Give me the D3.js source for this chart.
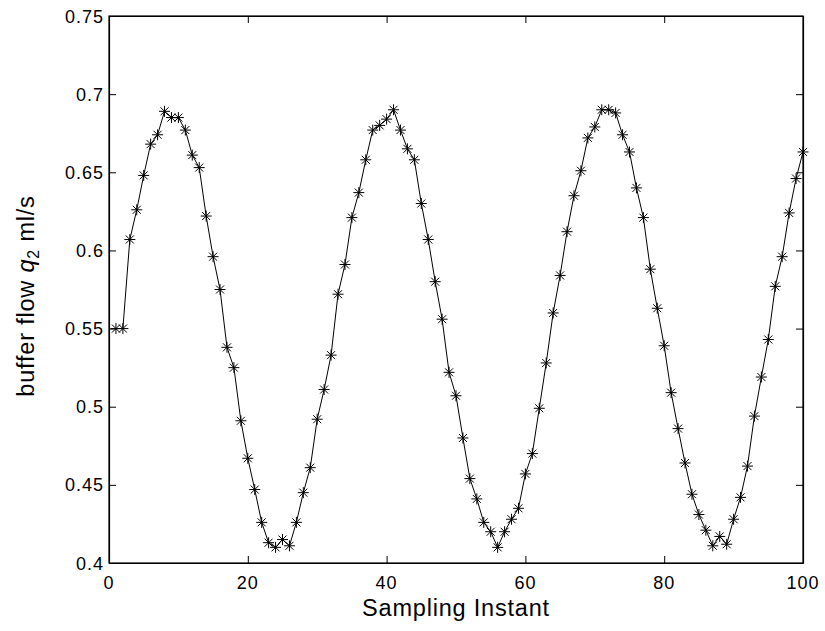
<!DOCTYPE html>
<html>
<head>
<meta charset="utf-8">
<script src="https://cdn.jsdelivr.net/npm/d3@7"></script>
<style>
  html, body { margin: 0; padding: 0; background: #fff; }
  svg { display: block; }
  text { font-family: "Liberation Sans", Arial, Helvetica, sans-serif; fill: #000; }
</style>
</head>
<body>
<svg id="chart" width="825" height="631"></svg>
<script>
// ---- data ----
const sampleIdx = d3.range(1, 101);
const bufferFlow = [
  0.550, 0.550, 0.607, 0.626, 0.648, 0.668, 0.674, 0.689, 0.685, 0.685,
  0.677, 0.661, 0.653, 0.622, 0.596, 0.575, 0.538, 0.525, 0.491, 0.467,
  0.447, 0.426, 0.413, 0.410, 0.415, 0.411, 0.426, 0.445, 0.461, 0.492,
  0.511, 0.533, 0.572, 0.591, 0.621, 0.637, 0.658, 0.677, 0.680, 0.684,
  0.690, 0.677, 0.665, 0.658, 0.630, 0.607, 0.580, 0.556, 0.522, 0.507,
  0.480, 0.454, 0.441, 0.426, 0.420, 0.410, 0.420, 0.428, 0.435, 0.457,
  0.470, 0.499, 0.528, 0.560, 0.584, 0.612, 0.635, 0.651, 0.672, 0.679,
  0.690, 0.690, 0.688, 0.674, 0.663, 0.640, 0.621, 0.588, 0.563, 0.539,
  0.509, 0.486, 0.464, 0.444, 0.431, 0.421, 0.411, 0.417, 0.412, 0.428,
  0.442, 0.462, 0.494, 0.519, 0.543, 0.577, 0.596, 0.624, 0.646, 0.663
];
const xTicks = [0, 20, 40, 60, 80, 100];
const yTicks = [0.4, 0.45, 0.5, 0.55, 0.6, 0.65, 0.7, 0.75];
const xTickLabels = ["0", "20", "40", "60", "80", "100"];
const yTickLabels = ["0.4", "0.45", "0.5", "0.55", "0.6", "0.65", "0.7", "0.75"];
const xTitle = "Sampling Instant";

(function () {
// ---- layout ----
const pL = 109, pR = 803, pT = 16, pB = 563;
const svg = d3.select("#chart");
const x = d3.scaleLinear().domain([0, 100]).range([pL, pR]);
const y = d3.scaleLinear().domain([0.4, 0.75]).range([pB, pT]);
const tickLen = 7;

// box
svg.append("rect")
  .attr("x", pL).attr("y", pT)
  .attr("width", pR - pL).attr("height", pB - pT)
  .attr("fill", "none").attr("stroke", "#000").attr("stroke-width", 1.2);

// axes with inward ticks
const axB = d3.axisBottom(x).tickValues(xTicks).tickSizeInner(-tickLen).tickSizeOuter(0).tickFormat(() => "");
const axT = d3.axisTop(x).tickValues(xTicks).tickSizeInner(-tickLen).tickSizeOuter(0).tickFormat(() => "");
const axL = d3.axisLeft(y).tickValues(yTicks).tickSizeInner(-tickLen).tickSizeOuter(0).tickFormat(() => "");
const axR = d3.axisRight(y).tickValues(yTicks).tickSizeInner(-tickLen).tickSizeOuter(0).tickFormat(() => "");
[[axB, `translate(0,${pB})`], [axT, `translate(0,${pT})`], [axL, `translate(${pL},0)`], [axR, `translate(${pR},0)`]]
  .forEach(([ax, tr]) => {
    const g = svg.append("g").attr("transform", tr).call(ax);
    g.select(".domain").attr("stroke", "#000").attr("stroke-width", 1.2);
    g.selectAll(".tick line").attr("stroke", "#000").attr("stroke-width", 1);
  });

// tick labels
svg.append("g").selectAll("text").data(xTicks).join("text")
  .attr("x", d => x(d)).attr("y", 589)
  .attr("text-anchor", "middle")
  .style("font-size", "18px").style("letter-spacing", "1px")
  .text((d, i) => xTickLabels[i]);

svg.append("g").selectAll("text").data(yTicks).join("text")
  .attr("x", 104).attr("y", d => y(d) + 6.5)
  .attr("text-anchor", "end")
  .style("font-size", "18px").style("letter-spacing", "1px")
  .text((d, i) => yTickLabels[i]);

// axis titles
svg.append("text")
  .attr("x", (pL + pR) / 2).attr("y", 616)
  .attr("text-anchor", "middle")
  .style("font-size", "23.5px").style("letter-spacing", "0.8px")
  .text(xTitle);

const yl = svg.append("text")
  .attr("transform", "translate(34,296) rotate(-90)")
  .attr("text-anchor", "middle")
  .style("font-size", "23.5px").style("letter-spacing", "0.8px");
yl.append("tspan").text("buffer flow ");
yl.append("tspan").style("font-style", "italic").text("q");
yl.append("tspan").attr("dy", 5).style("font-size", "16px").text("2");
yl.append("tspan").attr("dy", -5).text(" ml/s");

// line
const pts = sampleIdx.map((d, i) => [d, bufferFlow[i]]);
svg.append("path")
  .datum(pts)
  .attr("fill", "none").attr("stroke", "#000").attr("stroke-width", 1)
  .attr("d", d3.line().x(d => x(d[0])).y(d => y(d[1])));

// asterisk markers
const r = 5.5, rd = 4;
const mk = svg.append("g").attr("stroke", "#000").attr("stroke-width", 1);
mk.selectAll("path").data(pts).join("path")
  .attr("d", d => {
    const cx = x(d[0]), cy = y(d[1]);
    return `M${cx - r},${cy}H${cx + r}M${cx},${cy - r}V${cy + r}` +
           `M${cx - rd},${cy - rd}L${cx + rd},${cy + rd}M${cx - rd},${cy + rd}L${cx + rd},${cy - rd}`;
  });
})();
</script>
</body>
</html>
